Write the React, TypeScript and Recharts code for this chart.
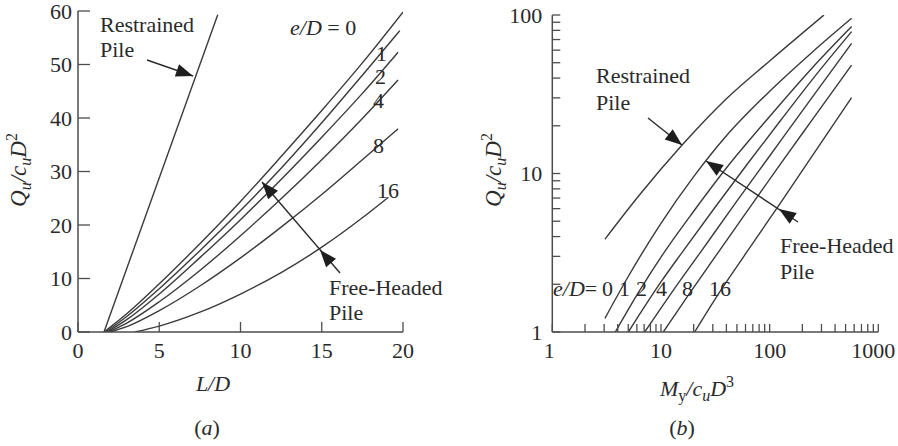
import { LineChart, Line, XAxis, YAxis } from 'recharts'

// ---- panel (a): Q_u / c_u D^2 against L/D ----
const ldTicks = [0, 5, 10, 15, 20]
const qTicksA = [0, 10, 20, 30, 40, 50, 60]

const ldRestrained = [[1.6, 0], [8.6, 59.3]]
const ldFree0 = [[1.6, 0], [3, 3.4], [5, 9.0], [7.5, 16.5], [10, 24.4], [12.5, 32.8], [15, 41.4], [17.5, 50.3], [20, 59.8]]
const ldFree1 = [[1.7, 0], [3, 2.9], [5, 8.1], [7.5, 15.2], [10, 22.7], [12.5, 30.6], [15, 39.1], [17.5, 48.0], [19.8, 56.3]]
const ldFree2 = [[1.8, 0], [3, 2.3], [5, 7.1], [7.5, 13.9], [10, 21.0], [12.5, 28.5], [15, 36.4], [17.5, 44.6], [19.7, 52.3]]
const ldFree4 = [[1.9, 0], [3, 1.65], [5, 5.65], [7.5, 11.5], [10, 18.0], [12.5, 24.9], [15, 32.2], [17.5, 39.9], [19.7, 47.1]]
const ldFree8 = [[2.0, 0], [3, 1.0], [5, 4.0], [7.5, 8.6], [10, 13.85], [12.5, 19.6], [15, 25.7], [17.5, 32.2], [19.7, 38.0]]
const ldFree16 = [[3.5, 0], [5, 1.1], [7.5, 3.7], [10, 7.1], [12.5, 11.1], [15, 15.85], [17.5, 21.35], [19.1, 25.2]]

// ---- panel (b): Q_u / c_u D^2 against M_y / c_u D^3 (log-log) ----
const myMajor = [1, 10, 100, 1000]
const myTicks = [1, 2, 3, 4, 5, 6, 7, 8, 9, 10, 20, 30, 40, 50, 60, 70, 80, 90, 100, 200, 300, 400, 500, 600, 700, 800, 900, 1000]
const qMajorB = [1, 10, 100]
const qTicksB = [1, 2, 3, 4, 5, 6, 7, 8, 9, 10, 20, 30, 40, 50, 60, 70, 80, 90, 100]

const myRestrained = [[3.05, 3.85], [6.31, 7.29], [15.5, 15.0], [39.8, 29.5], [100, 51.3], [316, 100]]
const myFree0 = [[3.05, 1.22], [5, 2.24], [10, 4.85], [20, 9.55], [40, 17.3], [100, 33.0], [251, 58.9], [568, 95.3]]
const myFree1 = [[3.8, 1.0], [6.31, 1.81], [10.67, 3.17], [20, 5.78], [39.8, 10.8], [100, 22.9], [251, 47.0], [568, 84.5]]
const myFree2 = [[5.01, 1.0], [10, 2.07], [15.6, 3.17], [31.6, 6.15], [63.1, 11.6], [126, 21.6], [251, 39.7], [568, 78.5]]
const myFree4 = [[7.08, 1.0], [12.6, 1.78], [22.9, 3.16], [50.1, 6.71], [100, 12.9], [251, 30.8], [568, 66.2]]
const myFree8 = [[10.5, 1.0], [17.8, 1.7], [33.4, 3.16], [63.1, 5.87], [126, 11.5], [251, 22.2], [568, 48.3]]
const myFree16 = [[20.4, 1.0], [31.6, 1.62], [63.1, 3.27], [126, 6.53], [568, 30.1]]

const eOverD = ['0', '1', '2', '4', '8', '16']

const toPoints = (rows: number[][]) => rows.map(([x, y]) => ({ x, y }))

const seriesA = [ldRestrained, ldFree0, ldFree1, ldFree2, ldFree4, ldFree8, ldFree16].map(toPoints)
const seriesB = [myRestrained, myFree0, myFree1, myFree2, myFree4, myFree8, myFree16].map(toPoints)

const SERIF = '"Liberation Serif", "Times New Roman", serif'
const INK = '#2a2a2a'
const AXIS = '#4d4d4d'
const CURVE = '#3a3a3a'

const tickStyle = { fontSize: 22, fontFamily: SERIF, fill: INK }
const axisLine = { stroke: AXIS, strokeWidth: 1.5 }
const tickLine = { stroke: AXIS, strokeWidth: 1.3 }

// decade labels only; the end labels sit slightly inside the axis ends
function DecadeTick(props: any) {
  const { x, y, payload } = props
  const v = payload.value
  if (!myMajor.includes(v)) return <g />
  const dx = v === 1000 ? -5 : v === 1 ? -3 : 0
  return (
    <text x={x + dx} y={y} dy="0.71em" textAnchor="middle" {...tickStyle}>
      {v}
    </text>
  )
}

function PanelA() {
  return (
    <LineChart width={450} height={446} margin={{ top: 11, right: 47, left: 0, bottom: 0 }}>
      <XAxis
        type="number"
        dataKey="x"
        domain={[0, 20]}
        ticks={ldTicks}
        interval={0}
        allowDataOverflow
        height={114}
        tickSize={-10}
        tickMargin={20}
        tick={tickStyle}
        axisLine={axisLine}
        tickLine={tickLine}
      />
      <YAxis
        type="number"
        dataKey="y"
        domain={[0, 60]}
        ticks={qTicksA}
        interval={0}
        allowDataOverflow
        width={78}
        tickSize={-12}
        tickMargin={18}
        tick={tickStyle}
        axisLine={axisLine}
        tickLine={tickLine}
      />
      {seriesA.map((pts, i) => (
        <Line
          key={i}
          data={pts}
          dataKey="y"
          type="monotone"
          dot={false}
          stroke={CURVE}
          strokeWidth={1.4}
          isAnimationActive={false}
        />
      ))}
    </LineChart>
  )
}

function PanelB() {
  return (
    <LineChart width={448} height={446} margin={{ top: 15, right: 19.7, left: 0, bottom: 0 }}>
      <XAxis
        type="number"
        dataKey="x"
        scale="log"
        domain={[1, 1000]}
        ticks={myTicks}
        interval={0}
        allowDataOverflow
        height={114}
        tickSize={-8}
        tickMargin={18}
        tick={<DecadeTick />}
        axisLine={axisLine}
        tickLine={tickLine}
      />
      <YAxis
        type="number"
        dataKey="y"
        scale="log"
        domain={[1, 100]}
        ticks={qTicksB}
        interval={0}
        allowDataOverflow
        width={102.3}
        tickSize={-8}
        tickMargin={18}
        tick={tickStyle}
        tickFormatter={(v: number) => (qMajorB.includes(v) ? String(v) : '')}
        axisLine={axisLine}
        tickLine={tickLine}
      />
      {seriesB.map((pts, i) => (
        <Line
          key={i}
          data={pts}
          dataKey="y"
          type="monotone"
          dot={false}
          stroke={CURVE}
          strokeWidth={1.4}
          isAnimationActive={false}
        />
      ))}
    </LineChart>
  )
}

// filled arrowhead whose point sits at (x, y), aimed along (dx, dy)
function Head({ x, y, dx, dy }: { x: number; y: number; dx: number; dy: number }) {
  const len = Math.hypot(dx, dy)
  const ux = dx / len
  const uy = dy / len
  const L = 17
  const W = 6.5
  const bx = x - ux * L
  const by = y - uy * L
  const pts = `${x},${y} ${bx - uy * W},${by + ux * W} ${bx + uy * W},${by - ux * W}`
  return <polygon points={pts} fill="#1e1e1e" />
}

function Arrow({ x1, y1, x2, y2, mid }: { x1: number; y1: number; x2: number; y2: number; mid?: [number, number] }) {
  const dx = x2 - x1
  const dy = y2 - y1
  return (
    <g>
      <line x1={x1} y1={y1} x2={x2} y2={y2} stroke="#2a2a2a" strokeWidth={1.4} />
      <Head x={x2} y={y2} dx={dx} dy={dy} />
      {mid && <Head x={mid[0]} y={mid[1]} dx={dx} dy={dy} />}
    </g>
  )
}

function QLabel({ x, y }: { x: number; y: number }) {
  return (
    <text transform={`translate(${x},${y}) rotate(-90)`} textAnchor="middle" fontSize={23} fill={INK}>
      <tspan fontStyle="italic">Q</tspan>
      <tspan fontStyle="italic" fontSize={16} dy={5}>u</tspan>
      <tspan fontStyle="italic" dy={-5}>/c</tspan>
      <tspan fontStyle="italic" fontSize={16} dy={5}>u</tspan>
      <tspan fontStyle="italic" dy={-5}>D</tspan>
      <tspan fontSize={16} dy={-9}>2</tspan>
    </text>
  )
}

function Notes() {
  return (
    <svg
      width={898}
      height={446}
      style={{ position: 'absolute', left: 0, top: 0, pointerEvents: 'none' }}
      fontFamily={SERIF}
      fontSize={22}
      fill={INK}
    >
      {/* (a) */}
      <text x={100} y={32}>Restrained</text>
      <text x={100} y={57}>Pile</text>
      <Arrow x1={147} y1={60} x2={193} y2={76} />
      <text x={290} y={35}>
        <tspan fontStyle="italic">e/D</tspan> = {eOverD[0]}
      </text>
      <text x={376} y={61}>{eOverD[1]}</text>
      <text x={375} y={84}>{eOverD[2]}</text>
      <text x={373} y={108}>{eOverD[3]}</text>
      <text x={373} y={153}>{eOverD[4]}</text>
      <text x={377} y={198}>{eOverD[5]}</text>
      <Arrow x1={340} y1={273} x2={262} y2={182} mid={[320, 250]} />
      <text x={329} y={295}>Free-Headed</text>
      <text x={329} y={320}>Pile</text>
      <text x={213} y={391} textAnchor="middle" fontStyle="italic">L/D</text>
      <text x={207} y={435} textAnchor="middle">
        (<tspan fontStyle="italic">a</tspan>)
      </text>
      <QLabel x={26} y={170} />

      {/* (b) */}
      <text x={596} y={83}>Restrained</text>
      <text x={596} y={110}>Pile</text>
      <Arrow x1={648} y1={118} x2={682} y2={145} />
      <Arrow x1={798} y1={222} x2={706} y2={161} mid={[779, 209]} />
      <text x={780} y={253}>Free-Headed</text>
      <text x={780} y={279}>Pile</text>
      <text x={553} y={296}>
        <tspan fontStyle="italic">e/D</tspan>=
      </text>
      <text x={602} y={296}>{eOverD[0]}</text>
      <text x={619} y={296}>{eOverD[1]}</text>
      <text x={636} y={296}>{eOverD[2]}</text>
      <text x={656} y={296}>{eOverD[3]}</text>
      <text x={682} y={296}>{eOverD[4]}</text>
      <text x={709} y={296}>{eOverD[5]}</text>
      <text x={697} y={396} textAnchor="middle">
        <tspan fontStyle="italic">M</tspan>
        <tspan fontSize={16} dy={5}>y</tspan>
        <tspan fontStyle="italic" dy={-5}>/c</tspan>
        <tspan fontStyle="italic" fontSize={16} dy={5}>u</tspan>
        <tspan fontStyle="italic" dy={-5}>D</tspan>
        <tspan fontSize={16} dy={-9}>3</tspan>
      </text>
      <text x={682} y={435} textAnchor="middle">
        (<tspan fontStyle="italic">b</tspan>)
      </text>
      <QLabel x={501} y={170} />
    </svg>
  )
}

export default function App() {
  return (
    <div
      style={{
        position: 'absolute',
        left: 0,
        top: 0,
        width: 898,
        height: 446,
        background: '#fff',
        overflow: 'hidden',
        fontFamily: SERIF,
      }}
    >
      <div style={{ position: 'absolute', left: 0, top: 0 }}>
        <PanelA />
      </div>
      <div style={{ position: 'absolute', left: 450, top: 0 }}>
        <PanelB />
      </div>
      <Notes />
    </div>
  )
}
